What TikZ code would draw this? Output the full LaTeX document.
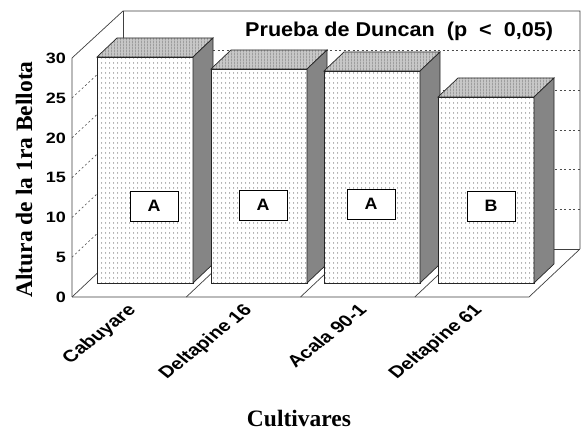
\documentclass[tikz,border=0pt]{standalone}
\usepackage{fontspec}
\setmainfont{Liberation Serif}
\newfontfamily\wsans[FakeStretch=1.2]{Liberation Sans}
\newfontfamily\tsans[FakeStretch=1.08]{Liberation Sans}
\newfontfamily\psans{Liberation Sans}
\usetikzlibrary{patterns.meta}
\tikzdeclarepattern{
  name=frontdots,
  type=uncolored,
  bounding box={(0pt,0pt) and (4pt,5pt)},
  tile size={(4pt,5pt)},
  code={\fill (2pt,2.5pt) circle (0.6pt);}
}
\tikzdeclarepattern{
  name=vstripes,
  type=uncolored,
  bounding box={(0pt,0pt) and (3pt,3pt)},
  tile size={(3pt,3pt)},
  code={\fill (0pt,0pt) rectangle (1pt,3pt);}
}
\tikzset{
  wall/.style={draw=black!75, line width=0.7pt},
  gridln/.style={draw=black!70, line width=0.6pt, dash pattern=on 2pt off 2.5pt},
  barline/.style={draw=black!85, line width=0.7pt},
  frontface/.style={fill=white},
  topface/.style={fill=black!22},
  sideface/.style={fill=black!48},
  letterbox/.style={draw=black, line width=0.8pt, fill=white, minimum width=48pt, minimum height=30pt, inner sep=0pt, font=\tsans\bfseries\fontsize{16.5}{18}\selectfont},
  ticklab/.style={anchor=east, inner sep=0pt, font=\wsans\bfseries\fontsize{15}{18}\selectfont},
  catlab/.style={anchor=base east, transform shape, rotate=45, inner sep=0pt, font=\psans\bfseries\fontsize{16.5}{18}\selectfont},
  axlab/.style={inner sep=0pt, font=\bfseries\fontsize{23.5}{28}\selectfont},
}
\begin{document}
\begin{tikzpicture}[x=1pt, y=-1pt]
\useasboundingbox (0,0) rectangle (584,430);
\fill[white] (0,0) rectangle (584,430);
% back wall and left wall gridlines
\foreach \k in {1,...,5} {
  \draw[gridln] (123,249-39.7*\k) -- (580,249-39.7*\k);
  \draw[gridln] (72,297-39.8*\k) -- (123,249-39.7*\k);
}
% walls
\draw[wall] (72,297) -- (72,58) -- (123,11) -- (580,11) -- (580,249);
\draw[wall] (123,11) -- (123,249) -- (580,249);
% floor
\draw[wall] (72,297) -- (529,297) -- (580,249);
\draw[wall] (72,297) -- (123,249);
\foreach \fx in {186.3,300.5,414.8} \draw[wall] (\fx,297) -- (\fx+51,249);
% bars
\foreach \x/\t/\L/\bx/\by/\n in {97/57/A/154/206/a, 211/69/A/263/205/b, 324/71/A/371/204/c, 438/97/B/491/206/d} {
  \path[frontface] (\x,\t) rectangle (\x+96,283);
  \path[pattern=frontdots, pattern color=black!85] (\x,\t) rectangle (\x+96,283);
  \draw[barline] (\x,\t) rectangle (\x+96,283);
  \path[topface] (\x,\t) -- (\x+20,\t-19) -- (\x+116,\t-19) -- (\x+96,\t) -- cycle;
  \path[pattern=vstripes, pattern color=black!38] (\x,\t) -- (\x+20,\t-19) -- (\x+116,\t-19) -- (\x+96,\t) -- cycle;
  \draw[barline] (\x,\t) -- (\x+20,\t-19) -- (\x+116,\t-19) -- (\x+96,\t) -- cycle;
  \filldraw[sideface, barline] (\x+96,\t) -- (\x+116,\t-19) -- (\x+116,264) -- (\x+96,283) -- cycle;
  \node[letterbox] (box\n) at (\bx,\by) {\L};
}
% tick labels
\foreach \v in {0,5,...,30} \node[ticklab] (t\v) at (66,297-7.95*\v) {\v};
% title
\node[anchor=base west, inner sep=0pt, font=\tsans\bfseries\fontsize{20}{24}\selectfont] (title) at (245,37) {Prueba de Duncan\ \ (p\ \ <\ \ 0,05)};
% category labels (rotated, then widened like the reference)
\begin{scope}[xscale=1.25]
\node[catlab] (c1) at (137/1.25,311) {Cabuyare};
\node[catlab] (c2) at (253/1.25,311) {Deltapine 16};
\node[catlab] (c3) at (368/1.25,311) {Acala 90-1};
\node[catlab] (c4) at (483/1.25,311) {Deltapine 61};
\end{scope}
% axis labels
\node[axlab, rotate=90] (ylab) at (24,179.5) {Altura de la 1ra Bellota};
\node[axlab, anchor=base] (xlab) at (299,426) {Cultivares};
\end{tikzpicture}
\end{document}
